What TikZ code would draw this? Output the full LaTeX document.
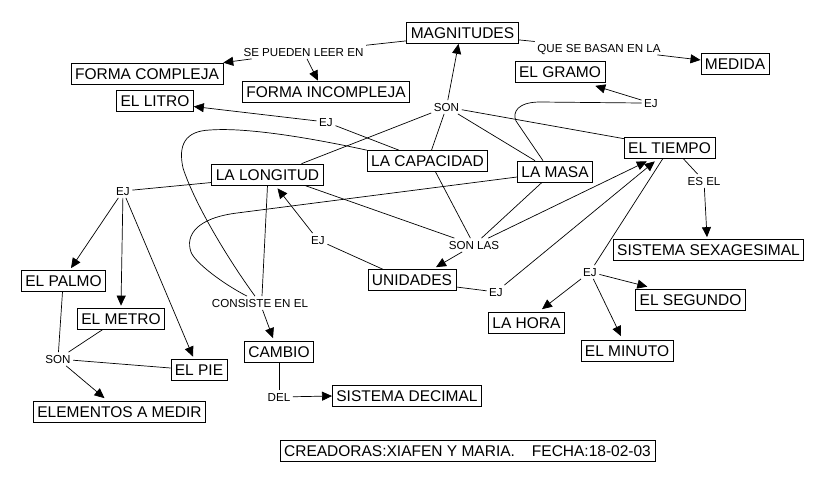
\documentclass[tikz,border=0pt]{standalone}
\usepackage{fontspec}
\setmainfont{Liberation Sans}
\usetikzlibrary{arrows.meta,calc}
\newcommand{\bxfont}{\fontsize{15.5}{18}\selectfont}
\newcommand{\lbfont}{\fontsize{11.6}{13}\selectfont}
\tikzset{
  box/.style={draw, line width=0.7pt, font=\bxfont, inner xsep=4pt, inner ysep=0pt,
    text height=11.2pt, text depth=0pt, minimum height=21pt},
  lbl/.style={font=\lbfont, inner sep=2.5pt, text height=8.4pt, text depth=0pt},
  conn/.style={line width=0.7pt},
  arr/.style={conn, -{Triangle[length=10pt,width=9pt]}},
}
\begin{document}
\begin{tikzpicture}[x=1pt,y=-1pt]
\useasboundingbox[fill=white] (0,0) rectangle (821,483);
% boxes
\node[box] (magn) at (462.5,33) {MAGNITUDES};
\node[box] (fcomp) at (147,73.5) {FORMA COMPLEJA};
\node[box] (finc) at (326,91.5) {FORMA INCOMPLEJA};
\node[box] (medida) at (735,64) {MEDIDA};
\node[box] (gramo) at (560,72) {EL GRAMO};
\node[box] (litro) at (155,100.5) {EL LITRO};
\node[box] (capac) at (427.5,161) {LA CAPACIDAD};
\node[box] (longit) at (267.5,174.5) {LA LONGITUD};
\node[box] (masa) at (555,171.5) {LA MASA};
\node[box] (tiempo) at (669.5,147.5) {EL TIEMPO};
\node[box] (sexag) at (708.5,250) {SISTEMA SEXAGESIMAL};
\node[box] (unid) at (412,280) {UNIDADES};
\node[box] (segundo) at (690.5,299.5) {EL SEGUNDO};
\node[box] (hora) at (526.5,323) {LA HORA};
\node[box] (minuto) at (627,351) {EL MINUTO};
\node[box] (cambio) at (279,352) {CAMBIO};
\node[box] (sdec) at (407,396) {SISTEMA DECIMAL};
\node[box] (palmo) at (63.5,281) {EL PALMO};
\node[box] (metro) at (121,318.5) {EL METRO};
\node[box] (pie) at (199,369.5) {EL PIE};
\node[box] (elem) at (119.5,412) {ELEMENTOS A MEDIR};
\node[box] (cred) at (467.5,451) {CREADORAS:XIAFEN Y MARIA.\hspace{17pt}FECHA:18-02-03};
% labels
\node[lbl] (lpueden) at (303.5,52) {SE PUEDEN LEER EN};
\node[lbl] (lbasan) at (599,48) {QUE SE BASAN EN LA};
\node[lbl] (lson1) at (446.5,107) {SON};
\node[lbl] (lej1) at (326,122) {EJ};
\node[lbl] (lej2) at (651,103) {EJ};
\node[lbl] (lej3) at (123,191) {EJ};
\node[lbl] (lesel) at (704,181) {ES EL};
\node[lbl] (lej4) at (318,240) {EJ};
\node[lbl] (lsonlas) at (474,245) {SON LAS};
\node[lbl] (lej5) at (496,292) {EJ};
\node[lbl] (lej6) at (590,272) {EJ};
\node[lbl] (lconsiste) at (260,303) {CONSISTE EN EL};
\node[lbl] (lson2) at (58,359) {SON};
\node[lbl] (ldel) at (279,397) {DEL};
% connectors
\draw[conn] ($(magn.south west)+(0,-3)$) -- (lpueden);
\draw[arr] (lpueden) -- (fcomp.north east);
\draw[arr] (lpueden) -- ($(finc.north)+(-8,0)$);
\draw[conn] ($(magn.south east)+(0,-4)$) -- (lbasan);
\draw[arr] (lbasan) -- ($(medida.west)+(0,-4)$);
\draw[arr] (lson1) -- ($(magn.south)+(-4,0)$);
\draw[conn] (lson1) -- ($(longit.north east)+(-22,0)$);
\draw[conn] (lson1) -- ($(capac.north)+(4,0)$);
\draw[conn] (lson1) -- ($(masa.north)+(-20,0)$);
\draw[conn] (lson1) -- ($(tiempo.north west)+(0,2)$);
\draw[arr] (lej1) -- ($(litro.east)+(0,6)$);
\draw[conn] (lej1) -- ($(capac.north west)+(32,0)$);
\draw[arr] (lej2) -- ($(gramo.south east)+(-10,3)$);
\draw[conn] ($(masa.north)+(-12,0)$) -- (516,121) .. controls (512,112) and (518,102) .. (540,102) -- (lej2.west);
\draw[conn] (lej3) -- ($(longit.west)+(0,8)$);
\draw[arr] (lej3) -- ($(palmo.north)+(7.5,-2)$);
\draw[arr] (lej3) -- ($(metro.north)+(0,-2)$);
\draw[arr] (lej3) -- ($(pie.north)+(-6,-2)$);
\draw[conn] ($(palmo.south)+(-1,0)$) -- (lson2);
\draw[conn] ($(metro.south)+(-18,0)$) -- (lson2);
\draw[conn] (lson2) -- ($(pie.west)+(0,-1.5)$);
\draw[arr] (lson2) -- ($(elem.north)+(-15,-3)$);
\draw[conn] (longit.south) -- ($(lconsiste.north)+(2,0)$);
\draw[conn] (capac.north west) .. controls (320,140) and (250,127) .. (210,130)
  .. controls (185,131) and (178,145) .. (183,168)
  .. controls (195,205) and (230,262) .. ($(lconsiste.north)+(-5,0)$);
\draw[conn] ($(masa.west)+(0,5.5)$) -- (237,213)
  .. controls (197,218) and (185,235) .. (191,252)
  .. controls (195,263) and (225,285) .. ($(lconsiste.north)+(-13,0)$);
\draw[arr] (lconsiste) -- ($(cambio.north)+(-6,-3)$);
\draw[conn] (cambio.south) -- (ldel.north);
\draw[arr] (ldel) -- (sdec.west);
\draw[conn] ($(longit.south east)+(-19,0)$) -- (lsonlas);
\draw[arr] (lej4) -- ($(longit.south)+(10,3)$);
\draw[conn] (lej4) -- ($(unid.north west)+(15,0)$);
\draw[conn] ($(capac.south)+(8,0)$) -- (lsonlas);
\draw[conn] ($(masa.south)+(-13,0)$) -- (lsonlas);
\draw[arr] (lsonlas) -- ($(tiempo.south west)+(23,3)$);
\draw[arr] (lsonlas) -- ($(unid.north)+(24,-2)$);
\draw[conn] ($(unid.east)+(0,7)$) -- (lej5);
\draw[arr] (lej5) -- ($(tiempo.south west)+(31,3)$);
\draw[conn] ($(tiempo.south)+(13.5,0)$) -- (lesel);
\draw[arr] (lesel) -- ($(sexag.north)+(-1.5,-2)$);
\draw[conn] ($(tiempo.south)+(-6.5,0)$) -- (lej6);
\draw[arr] (lej6) -- ($(segundo.north west)+(12,-2)$);
\draw[arr] (lej6) -- ($(hora.north)+(15.5,-3)$);
\draw[arr] (lej6) -- ($(minuto.north)+(-6,-4)$);
\end{tikzpicture}
\end{document}
